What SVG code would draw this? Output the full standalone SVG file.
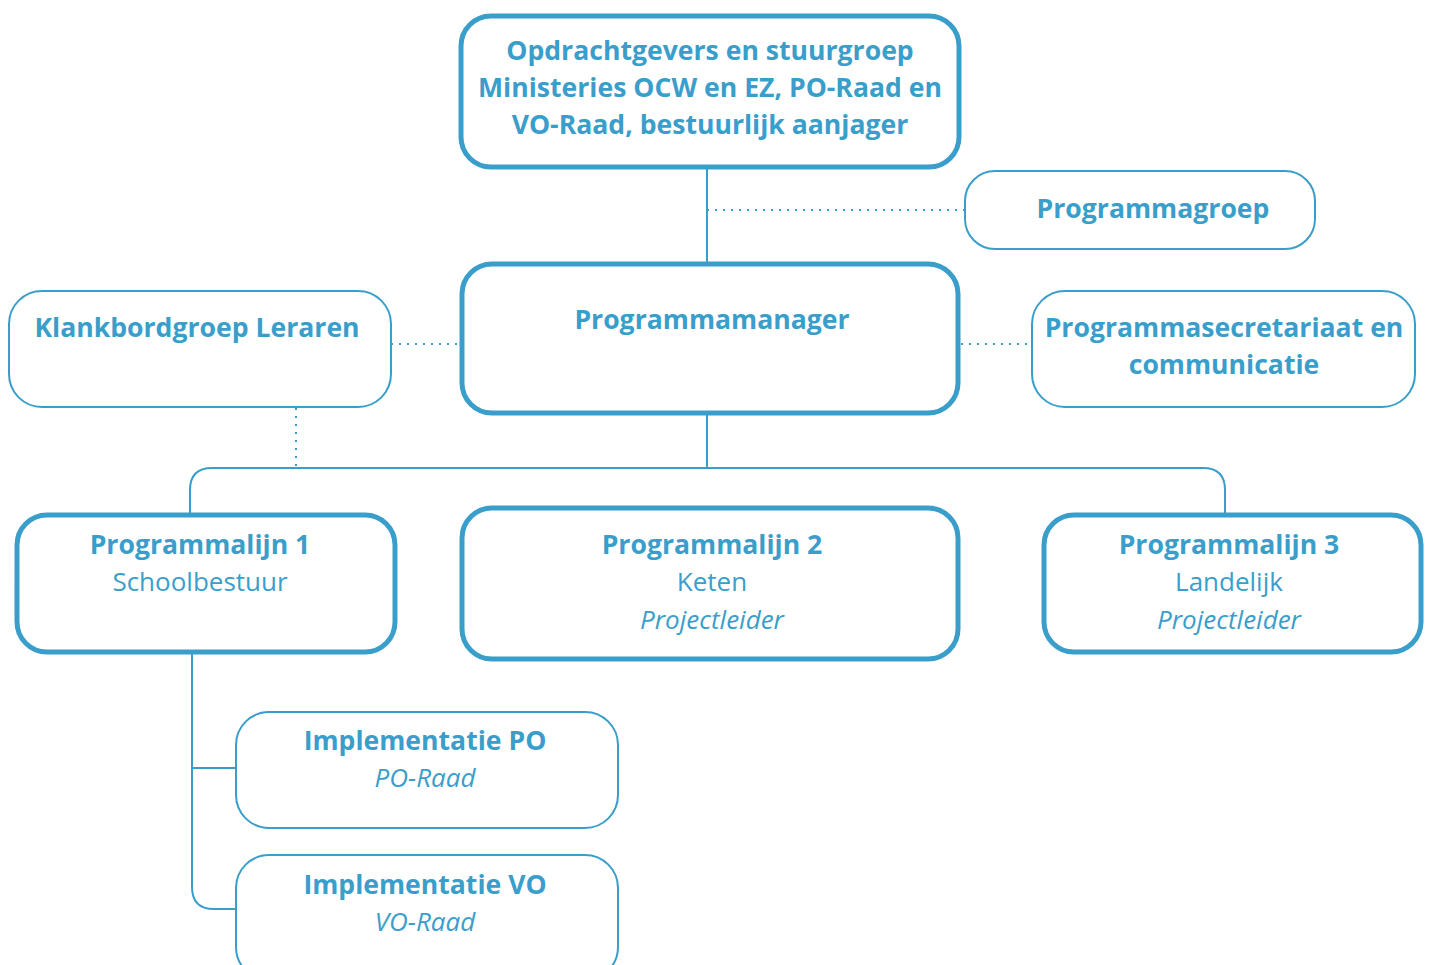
<svg xmlns="http://www.w3.org/2000/svg" width="1431" height="965" viewBox="0 0 1431 965">
<style>
.thick{fill:#fff;stroke:#3a9ecb;stroke-width:5}
.thin{fill:#fff;stroke:#3a9ecb;stroke-width:2}
.ln{fill:none;stroke:#3a9ecb;stroke-width:2}
.dot{fill:none;stroke:#3a9ecb;stroke-width:2;stroke-dasharray:2 6}
text{font-family:"Open Sans","Noto Sans",sans-serif;fill:#3a9ecb;text-anchor:middle;font-size:26.6px}
.b{font-weight:700}
.l{font-weight:400;font-size:26px}
.i{font-weight:400;font-style:italic;font-size:26px}
</style>
<rect width="1431" height="965" fill="#fff"/>
<g id="connectors">
<path class="ln" d="M707 168V263"/>
<path class="dot" d="M707 210H965"/>
<path class="dot" d="M391 344H461"/>
<path class="dot" d="M961 344H1032"/>
<path class="dot" d="M296 408V468"/>
<path class="ln" d="M707 414V468"/>
<path class="ln" d="M190 515V490Q190 468 212 468H1203Q1225 468 1225 490V515"/>
<path class="ln" d="M192 652V887Q192 909 214 909H236"/>
<path class="ln" d="M193 768H236"/>
</g>
<g id="n-opdrachtgevers">
<rect class="thick" x="461" y="16" width="498" height="151" rx="30"/>
<text class="b" x="710" y="60">Opdrachtgevers en stuurgroep</text>
<text class="b" x="710" y="97">Ministeries OCW en EZ, PO-Raad en</text>
<text class="b" x="710" y="134">VO-Raad, bestuurlijk aanjager</text>
</g>
<g id="n-programmagroep">
<rect class="thin" x="965" y="171" width="350" height="78" rx="30"/>
<text class="b" x="1153" y="218">Programmagroep</text>
</g>
<g id="n-programmamanager">
<rect class="thick" x="462" y="264" width="496" height="149" rx="30"/>
<text class="b" x="712" y="329">Programmamanager</text>
</g>
<g id="n-klankbord">
<rect class="thin" x="9" y="291" width="382" height="116" rx="33"/>
<text class="b" x="197" y="337">Klankbordgroep Leraren</text>
</g>
<g id="n-secretariaat">
<rect class="thin" x="1032" y="291" width="383" height="116" rx="33"/>
<text class="b" x="1224" y="337">Programmasecretariaat en</text>
<text class="b" x="1224" y="374">communicatie</text>
</g>
<g id="n-lijn1">
<rect class="thick" x="17" y="515" width="378" height="137" rx="30"/>
<text class="b" x="200" y="554">Programmalijn 1</text>
<text class="l" x="200" y="591">Schoolbestuur</text>
</g>
<g id="n-lijn2">
<rect class="thick" x="462" y="508" width="496" height="151" rx="30"/>
<text class="b" x="712" y="554">Programmalijn 2</text>
<text class="l" x="712" y="591">Keten</text>
<text class="i" x="712" y="629">Projectleider</text>
</g>
<g id="n-lijn3">
<rect class="thick" x="1044" y="515" width="377" height="137" rx="30"/>
<text class="b" x="1229" y="554">Programmalijn 3</text>
<text class="l" x="1229" y="591">Landelijk</text>
<text class="i" x="1229" y="629">Projectleider</text>
</g>
<g id="n-impl-po">
<rect class="thin" x="236" y="712" width="382" height="116" rx="33"/>
<text class="b" x="425" y="750">Implementatie PO</text>
<text class="i" x="425" y="787">PO-Raad</text>
</g>
<g id="n-impl-vo">
<rect class="thin" x="236" y="855" width="382" height="125" rx="33"/>
<text class="b" x="425" y="894">Implementatie VO</text>
<text class="i" x="425" y="931">VO-Raad</text>
</g>
</svg>
